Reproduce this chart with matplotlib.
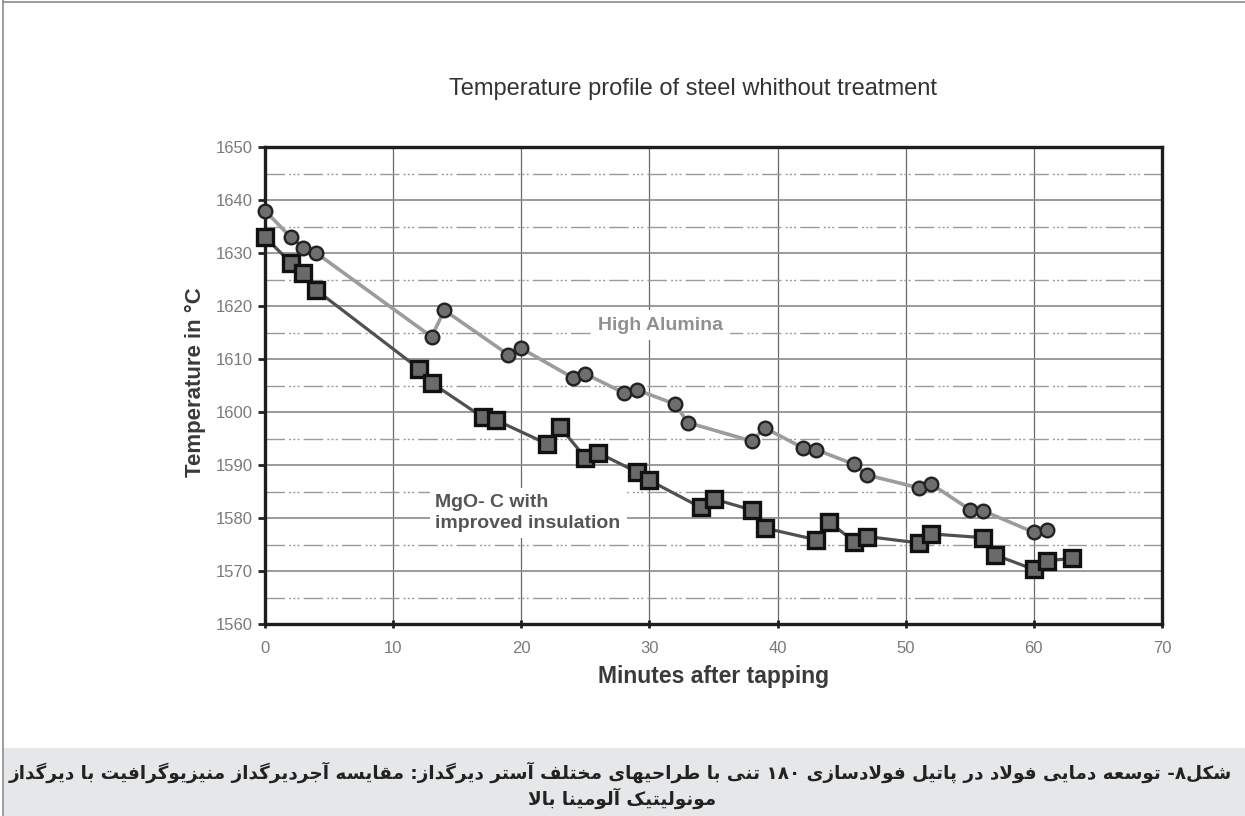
import re
import matplotlib
matplotlib.use("Agg")
import matplotlib.pyplot as plt

plt.rcParams['font.family'] = ['Liberation Sans', 'DejaVu Sans']

# data
ha_min = [0, 2, 3, 4, 13, 14, 19, 20, 24, 25, 28, 29, 32, 33, 38, 39, 42, 43, 46, 47, 51, 52, 55, 56, 60, 61]
ha_temp = [1638, 1633, 1631, 1630, 1614.2, 1619.2, 1610.8, 1612, 1606.5, 1607.2, 1603.6, 1604.2, 1601.5, 1598,
           1594.5, 1597, 1593.2, 1592.9, 1590.1, 1588.1, 1585.7, 1586.4, 1581.6, 1581.4, 1577.3, 1577.8]
mgo_min = [0, 2, 3, 4, 12, 13, 17, 18, 22, 23, 25, 26, 29, 30, 34, 35, 38, 39, 43, 44, 46, 47, 51, 52, 56, 57, 60, 61, 63]
mgo_temp = [1633, 1628.2, 1626.2, 1623, 1608.2, 1605.5, 1599, 1598.5, 1594, 1597.2, 1591.4, 1592.3, 1588.7, 1587.1,
            1582, 1583.6, 1581.5, 1578.1, 1575.9, 1579.3, 1575.5, 1576.5, 1575.3, 1577, 1576.3, 1573, 1570.3, 1571.9, 1572.4]
x_ticks = list(range(0, 71, 10))
y_ticks = list(range(1560, 1651, 10))

title = "Temperature profile of steel whithout treatment"
x_label = "Minutes after tapping"
y_label = "Temperature in °C"
caption_1 = "شکل۸- توسعه دمایی فولاد در پاتیل فولادسازی ۱۸۰ تنی با طراحیهای مختلف آستر دیرگداز: مقایسه آجردیرگداز منیزیوگرافیت با دیرگداز"
caption_2 = "مونولیتیک آلومینا بالا"

# persian shaping (matplotlib has no RTL / joining support)
DUAL = {
    'ب': '\uFE8F\uFE90\uFE91\uFE92', 'پ': '\uFB56\uFB57\uFB58\uFB59', 'ت': '\uFE95\uFE96\uFE97\uFE98',
    'ث': '\uFE99\uFE9A\uFE9B\uFE9C', 'ج': '\uFE9D\uFE9E\uFE9F\uFEA0', 'ح': '\uFEA1\uFEA2\uFEA3\uFEA4',
    'خ': '\uFEA5\uFEA6\uFEA7\uFEA8', 'س': '\uFEB1\uFEB2\uFEB3\uFEB4', 'ش': '\uFEB5\uFEB6\uFEB7\uFEB8',
    'ص': '\uFEB9\uFEBA\uFEBB\uFEBC', 'ط': '\uFEC1\uFEC2\uFEC3\uFEC4', 'ع': '\uFEC9\uFECA\uFECB\uFECC',
    'غ': '\uFECD\uFECE\uFECF\uFED0', 'ف': '\uFED1\uFED2\uFED3\uFED4', 'ق': '\uFED5\uFED6\uFED7\uFED8',
    'ک': '\uFB8E\uFB8F\uFB90\uFB91', 'گ': '\uFB92\uFB93\uFB94\uFB95', 'ل': '\uFEDD\uFEDE\uFEDF\uFEE0',
    'م': '\uFEE1\uFEE2\uFEE3\uFEE4', 'ن': '\uFEE5\uFEE6\uFEE7\uFEE8', 'ه': '\uFEE9\uFEEA\uFEEB\uFEEC',
    'ی': '\uFBFC\uFBFD\uFBFE\uFBFF',
}
RIGHT = {
    'ا': '\uFE8D\uFE8E', 'آ': '\uFE81\uFE82', 'د': '\uFEA9\uFEAA', 'ذ': '\uFEAB\uFEAC',
    'ر': '\uFEAD\uFEAE', 'ز': '\uFEAF\uFEB0', 'ژ': '\uFB8A\uFB8B', 'و': '\uFEED\uFEEE',
}
LAM_ALEF = {'ا': '\uFEFB\uFEFC', 'آ': '\uFEF5\uFEF6'}


def shape(s):
    out = []
    i = 0
    n = len(s)
    while i < n:
        c = s[i]
        prev_j = i > 0 and s[i - 1] in DUAL
        if c == 'ل' and i + 1 < n and s[i + 1] in LAM_ALEF:
            out.append(LAM_ALEF[s[i + 1]][1 if prev_j else 0])
            i += 2
            continue
        if c in DUAL:
            next_j = i + 1 < n and (s[i + 1] in DUAL or s[i + 1] in RIGHT)
            f = DUAL[c]
            out.append(f[3] if prev_j and next_j else f[1] if prev_j else f[2] if next_j else f[0])
        elif c in RIGHT:
            out.append(RIGHT[c][1 if prev_j else 0])
        else:
            out.append(c)
        i += 1
    runs = re.findall(r'[۰-۹0-9]+|[^۰-۹0-9]', ''.join(out))
    return ''.join(reversed(runs))


W, H = 1245, 816
fig = plt.figure(figsize=(W / 100, H / 100), dpi=100)

# page frame and caption band
fig.add_artist(plt.Line2D([3 / W, 3 / W], [0, 1], color='#8c8c8c', lw=1.2))
fig.add_artist(plt.Line2D([3 / W, 1], [1 - 2 / H, 1 - 2 / H], color='#8c8c8c', lw=1.2))
fig.add_artist(plt.Rectangle((4 / W, 0), 1, 68 / H, color='#e6e7e8', lw=0))

ax = fig.add_axes([265 / W, 1 - 624 / H, (1162 - 265) / W, (624 - 147) / H])
ax.plot(mgo_min, mgo_temp, color='#505050', lw=2.3, marker='s', ms=11, mfc='#6a6a6a', mec='#111111', mew=2.4,
        zorder=4, clip_on=False)
ax.plot(ha_min, ha_temp, color='#9c9c9c', lw=2.6, marker='o', ms=9.8, mfc='#6e6e6e', mec='#222222', mew=1.7,
        zorder=5, clip_on=False)

ax.set_xlim(0, 70)
ax.set_ylim(1560, 1650)
ax.set_xticks(x_ticks)
ax.set_yticks(y_ticks)
ax.set_yticks([v + 5 for v in y_ticks[:-1]], minor=True)
ax.grid(which='major', axis='x', color='#6a6a6a', lw=0.9)
ax.grid(which='major', axis='y', color='#8a8a8a', lw=1.2)
ax.grid(which='minor', axis='y', color='#9a9a9a', lw=1.0, linestyle=(0, (14, 3, 1.5, 1.5, 1.5, 1.5, 1.5, 3)))
ax.set_axisbelow(True)
for sp in ax.spines.values():
    sp.set_linewidth(2.4)
    sp.set_color('#1e1e1e')
ax.tick_params(axis='y', which='major', direction='out', length=5, width=2, color='#222222',
               pad=4, labelsize=12, labelcolor='#7a7a7a')
ax.tick_params(axis='x', which='major', direction='inout', length=6, width=2, color='#222222',
               pad=9, labelsize=12, labelcolor='#7a7a7a')
ax.tick_params(which='minor', length=0)

ax.text(30.9, 1616.4, "High Alumina", ha='center', va='center', fontsize=14, fontweight='bold',
        color='#909090', zorder=3, bbox=dict(boxstyle='square,pad=0.35', fc='white', ec='none'))
ax.text(13.3, 1580.9, "MgO- C with\nimproved insulation", ha='left', va='center', fontsize=14,
        fontweight='bold', color='#555555', linespacing=1.3, zorder=3,
        bbox=dict(boxstyle='square,pad=0.3', fc='white', ec='none'))

fig.text(693 / W, 1 - 89 / H, title, ha='center', va='center', fontsize=17, color='#333333')
fig.text(713.5 / W, 1 - 677 / H, x_label, ha='center', va='center', fontsize=16.5, fontweight='bold', color='#3a3a3a')
fig.text(195 / W, 1 - 382 / H, y_label, ha='center', va='center', rotation=90, fontsize=16,
         fontweight='bold', color='#3a3a3a')

cap1 = fig.text(1232 / W, 1 - 772 / H, shape(caption_1), ha='right', va='center', fontsize=13,
                fontweight='bold', family='DejaVu Sans', color='#222222')
cap2 = fig.text(622 / W, 1 - 798 / H, shape(caption_2), ha='center', va='center', fontsize=13,
                fontweight='bold', family='DejaVu Sans', color='#222222')
# fit first caption line to the width of the band text
r = fig.canvas.get_renderer()
w = cap1.get_window_extent(r).width
fs = 13 * 1218 / w
cap1.set_fontsize(fs)
cap2.set_fontsize(fs)

fig.savefig("out.png", dpi=100)
